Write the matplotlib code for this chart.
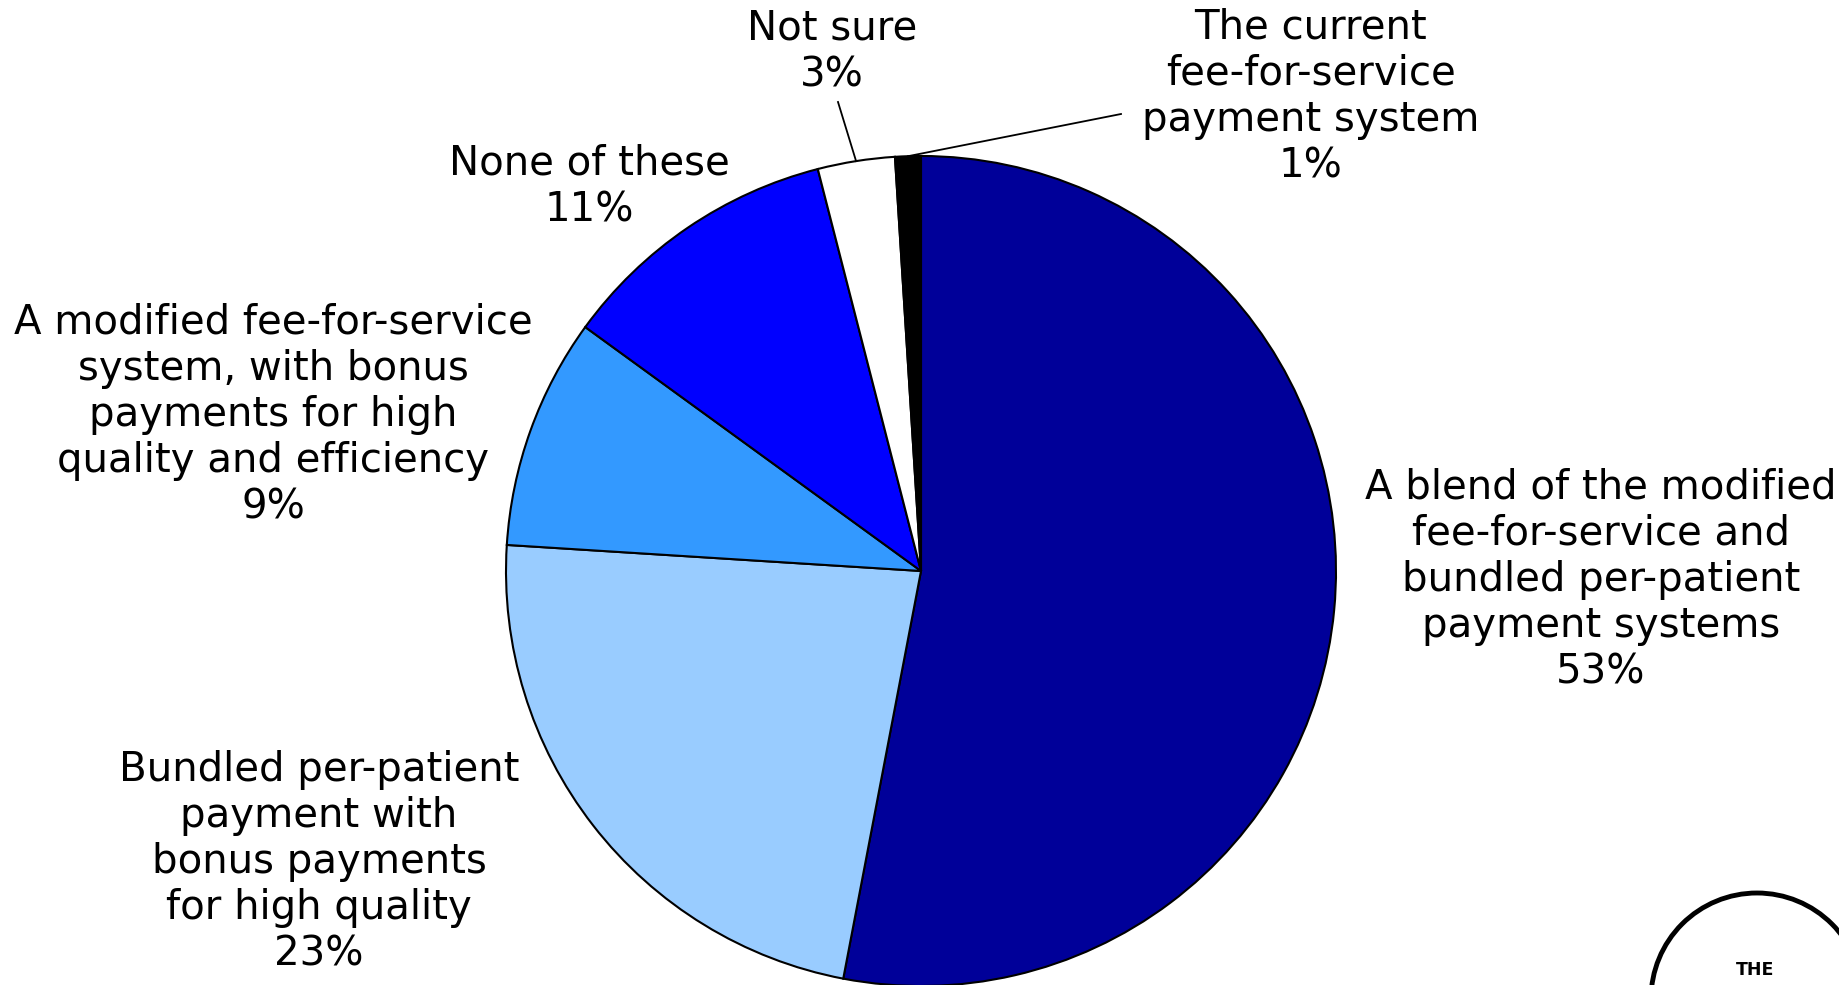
import numpy as np
import matplotlib
matplotlib.use('Agg')
import matplotlib.pyplot as plt
from matplotlib.patches import Circle

# answers, clockwise from 12 o'clock
labels = ['A blend of the modified\nfee-for-service and\nbundled per-patient\npayment systems',
          'Bundled per-patient\npayment with\nbonus payments\nfor high quality',
          'A modified fee-for-service\nsystem, with bonus\npayments for high\nquality and efficiency',
          'None of these',
          'Not sure',
          'The current\nfee-for-service\npayment system']
shares = [53, 23, 9, 11, 3, 1]
colors = ['#000099', '#99CCFF', '#3399FF', '#0000FF', '#FFFFFF', '#000000']

W, H = 1840, 985
fig = plt.figure(figsize=(W / 100, H / 100), dpi=100)
ax = fig.add_axes([0, 0, 1, 1])

cx, cy, r = 921, H - 571, 415
wedges, _ = ax.pie(shares, colors=colors, startangle=90, counterclock=False,
                   center=(cx, cy), radius=r, frame=True,
                   wedgeprops=dict(edgecolor='black', linewidth=1.5))
ax.set_xlim(0, W)
ax.set_ylim(0, H)
ax.set_aspect('equal')
ax.axis('off')

# label centres in pixels (from top)
label_pos = [(1601, 580), (319, 862), (273, 415), (589, 187), (832, 52), (1311, 97)]
leader_end = {4: (838, 102), 5: (1121, 114)}

for i, (lab, val) in enumerate(zip(labels, shares)):
    x, y = label_pos[i]
    ax.text(x, H - y, f'{lab}\n{val}%', ha='center', va='center',
            fontsize=29, color='black', linespacing=1.2,
            family='DejaVu Sans')
    if i in leader_end:
        w = wedges[i]
        mid = np.deg2rad((w.theta1 + w.theta2) / 2)
        px, py = cx + r * np.cos(mid), cy + r * np.sin(mid)
        ex, ey = leader_end[i]
        ax.plot([px, ex], [py, H - ey], color='black', lw=1.3)

# logo stub in the corner
ax.add_patch(Circle((1757, H - 999), 106, fill=False, edgecolor='black', lw=3.5))
ax.text(1755, H - 970, 'THE', ha='center', va='center', fontsize=12.5,
        fontweight='bold', family='DejaVu Sans')

fig.savefig('out.png', dpi=100)
